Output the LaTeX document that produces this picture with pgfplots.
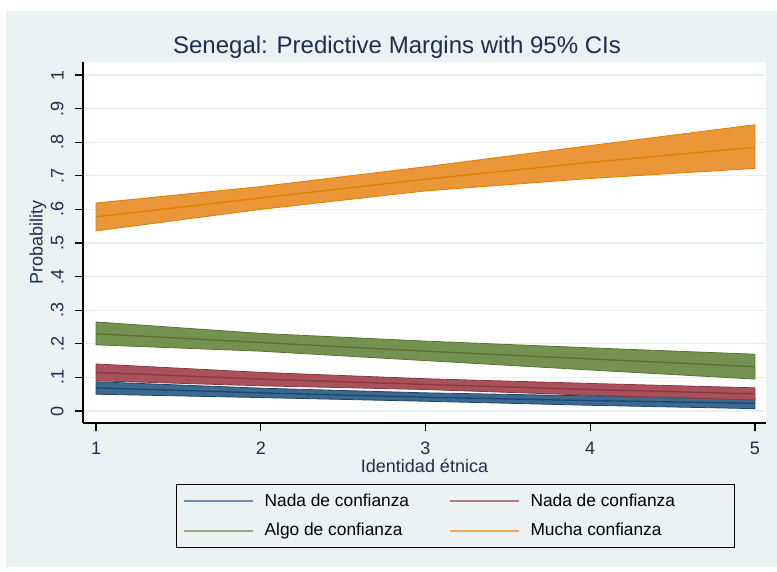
\documentclass[border=0pt]{standalone}
\usepackage{fontspec}
\setmainfont{Liberation Sans}
\usepackage{pgfplots}
\pgfplotsset{compat=1.18}

\definecolor{bgcol}{RGB}{234,242,243}
\definecolor{titlecol}{RGB}{30,45,80}
\definecolor{gridcol}{RGB}{232,240,242}
\definecolor{bluefill}{RGB}{62,105,142}
\definecolor{blueline}{RGB}{26,71,111}
\definecolor{redfill}{RGB}{168,82,92}
\definecolor{redline}{RGB}{144,53,59}
\definecolor{greenfill}{RGB}{118,146,82}
\definecolor{greenline}{RGB}{85,117,47}
\definecolor{orangefill}{RGB}{233,151,56}
\definecolor{orangeline}{RGB}{227,126,0}
\definecolor{bluelg}{RGB}{112,140,166}
\definecolor{redlg}{RGB}{184,121,127}
\definecolor{greenlg}{RGB}{150,170,123}
\definecolor{orangelg}{RGB}{240,170,90}

\begin{document}
\begin{tikzpicture}
\path[use as bounding box] (0,0) rectangle (582.75pt,428.25pt);
\fill[white] (0,0) rectangle (582.75pt,428.25pt);
\fill[bgcol] (4.5pt,3pt) rectangle (582.75pt,420pt);
\node[font=\fontsize{18}{20}\selectfont,text=titlecol] at (297.75pt,393pt) {Senegal: Predictive Margins with 95\% CIs};
\begin{axis}[
at={(62.25pt,111pt)},anchor=south west,
scale only axis,width=512.25pt,height=270.75pt,
xmin=0.921,xmax=5.067,ymin=-0.0357,ymax=1.0387,
axis x line*=bottom,axis y line*=left,
axis line style={-,black,line width=0.8pt},
axis background/.style={fill=white},
tick align=outside,major tick length=6pt,
tick style={black,line width=0.8pt},
xtick={1,2,3,4,5},xticklabels={1,2,3,4,5},
ytick={0,0.1,0.2,0.3,0.4,0.5,0.6,0.7,0.8,0.9,1},
yticklabels={0,.1,.2,.3,.4,.5,.6,.7,.8,.9,1},
ymajorgrids,grid style={gridcol,line width=0.8pt},
ticklabel style={font=\fontsize{13.5}{15}\selectfont,text=titlecol},
yticklabel style={rotate=90,anchor=south,yshift=5pt},
xticklabel style={yshift=-4.5pt},
xlabel={Identidad étnica},ylabel={Probability},
label style={font=\fontsize{13.5}{15}\selectfont,text=titlecol},
xlabel style={at={(axis description cs:0.5,-0.119)},anchor=center},
ylabel style={at={(axis description cs:-0.0659,0.5)},anchor=center,rotate=0},
legend columns=2,legend cell align=left,
legend image code/.code={\draw[#1,line width=1.5pt] (0pt,0pt) -- (52pt,0pt);},
legend style={at={(axis description cs:0.5454,-0.2576)},anchor=center,
  draw=black,fill=bgcol,line width=0.6pt,font=\fontsize{13}{15}\selectfont,
  inner xsep=4.5pt,inner ysep=5pt,row sep=7pt,
  /tikz/every odd column/.append style={column sep=6pt},
  /tikz/every even column/.append style={column sep=27.5pt}},
]
% confidence bands
\addplot[forget plot,fill=bluefill,draw=blueline,line width=0.6pt] coordinates {(1,0.087)(2,0.068)(3,0.054)(4,0.045)(5,0.040)(5,0.007)(4,0.017)(3,0.029)(2,0.040)(1,0.050)} -- cycle;
\addplot[forget plot,fill=redfill,draw=redline,line width=0.6pt] coordinates {(1,0.140)(2,0.115)(3,0.096)(4,0.082)(5,0.069)(5,0.033)(4,0.047)(3,0.064)(2,0.075)(1,0.090)} -- cycle;
\addplot[forget plot,fill=greenfill,draw=greenline,line width=0.6pt] coordinates {(1,0.265)(2,0.231)(3,0.208)(4,0.188)(5,0.169)(5,0.095)(4,0.122)(3,0.150)(2,0.178)(1,0.197)} -- cycle;
\addplot[forget plot,fill=orangefill,draw=orangeline,line width=0.6pt] coordinates {(1,0.619)(2,0.668)(3,0.727)(4,0.790)(5,0.852)(5,0.722)(4,0.692)(3,0.655)(2,0.600)(1,0.536)} -- cycle;
% predicted margins
\addplot[forget plot,blueline,line width=1pt] coordinates {(1,0.069)(2,0.054)(3,0.041)(4,0.031)(5,0.023)};
\addplot[forget plot,redline,line width=1pt] coordinates {(1,0.115)(2,0.095)(3,0.079)(4,0.064)(5,0.051)};
\addplot[forget plot,greenline,line width=1pt] coordinates {(1,0.230)(2,0.204)(3,0.178)(4,0.155)(5,0.132)};
\addplot[forget plot,orangeline,line width=1pt] coordinates {(1,0.578)(2,0.634)(3,0.690)(4,0.740)(5,0.785)};
\addlegendimage{bluelg}\addlegendentry{Nada de confianza}
\addlegendimage{redlg}\addlegendentry{Nada de confianza\hspace*{38pt}}
\addlegendimage{greenlg}\addlegendentry{Algo de confianza}
\addlegendimage{orangelg}\addlegendentry{Mucha confianza}
\end{axis}
\end{tikzpicture}
\end{document}
